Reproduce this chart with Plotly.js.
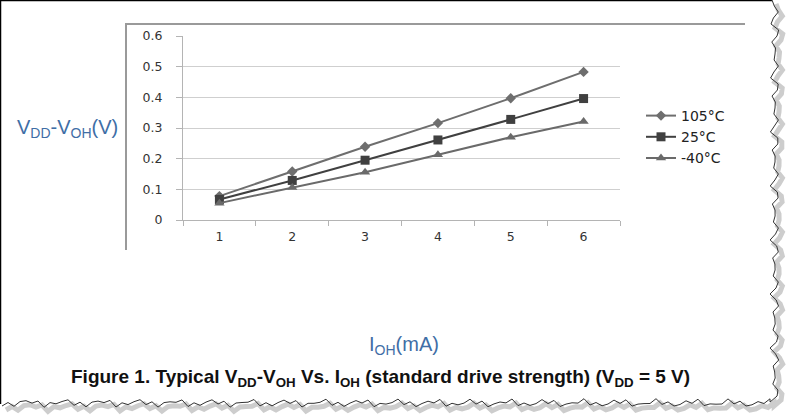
<!DOCTYPE html>
<html>
<head>
<meta charset="utf-8">
<script src="https://cdn.plot.ly/plotly-3.0.1.min.js"></script>
<style>
  body { margin: 0; background: #fff; }
  #chart { width: 793px; height: 417px; }
</style>
</head>
<body>
<div id="chart"></div>
<script>
// currents (mA) on the x axis
const currents = ['1', '2', '3', '4', '5', '6'];
// VDD-VOH (V) per temperature
const hot105 = [0.078, 0.158, 0.239, 0.316, 0.397, 0.483];
const room25 = [0.067, 0.129, 0.195, 0.261, 0.328, 0.396];
const cold40 = [0.055, 0.106, 0.156, 0.213, 0.270, 0.321];
const seriesNames = ['105°C', '25°C', '-40°C'];

// plot area in pixels
const L = 183, R = 620, T = 36, B = 220;
function px(x) { return (x - L) / (R - L); }
function py(y) { return (B - y) / (B - T); }

var trace1 = {
    x: currents, y: hot105, name: seriesNames[0],
    mode: 'lines+markers', type: 'scatter',
    line: { color: '#6e6e6e', width: 2 },
    marker: { symbol: 'diamond', size: 8, color: '#6e6e6e' }
};
var trace2 = {
    x: currents, y: room25, name: seriesNames[1],
    mode: 'lines+markers', type: 'scatter',
    line: { color: '#404040', width: 2 },
    marker: { symbol: 'square', size: 9, color: '#404040' }
};
var trace3 = {
    x: currents, y: cold40, name: seriesNames[2],
    mode: 'lines+markers', type: 'scatter',
    line: { color: '#6a6a6a', width: 2 },
    marker: { symbol: 'triangle-up', size: 9, color: '#6a6a6a' }
};

// jagged torn-paper edge (decoration)
function tornEdge() {
    let d = 'M 772 0';
    for (let y = 6; y <= 402; y += 6) {
        d += ' L ' + (775 + 3 * Math.sin(y * 0.7) + 2 * Math.sin(y * 0.23)).toFixed(1) + ' ' + y;
    }
    for (let x = 770; x >= 0; x -= 6) {
        d += ' L ' + x + ' ' + (403 + 2.5 * Math.sin(x * 0.61) + 2 * Math.sin(x * 0.17)).toFixed(1);
    }
    return d;
}
const edge = tornEdge();

const blue = '#3f6ea6';
const narrow = '"Liberation Sans Narrow", "Arial Narrow", "Liberation Sans", Arial, sans-serif';

var layout = {
    width: 793, height: 417,
    margin: { l: L, r: 793 - R, t: T, b: 417 - B },
    paper_bgcolor: '#fff', plot_bgcolor: '#fff',
    font: { family: 'DejaVu Sans, Verdana, sans-serif', size: 12.5, color: '#333' },
    showlegend: true,
    legend: {
        x: px(641), xanchor: 'left', y: py(100), yanchor: 'top',
        font: { size: 14, color: '#222' }, bgcolor: 'rgba(0,0,0,0)'
    },
    xaxis: {
        type: 'category', range: [-0.5, 5.5], tickson: 'boundaries',
        showgrid: false, showline: true, linecolor: '#b4b4b4', linewidth: 1,
        ticks: 'outside', ticklen: 5, tickcolor: '#b4b4b4',
        ticklabelstandoff: 5, fixedrange: true
    },
    yaxis: {
        range: [0, 0.6], dtick: 0.1, showgrid: true, gridcolor: '#cfcfcf',
        showline: true, linecolor: '#b4b4b4', zeroline: false,
        ticks: 'outside', ticklen: 6, tickcolor: '#b4b4b4',
        ticklabelstandoff: 11, fixedrange: true
    },
    shapes: [
        // outer black frame (top and left)
        { type: 'line', xref: 'paper', yref: 'paper', x0: px(0), x1: px(772), y0: py(0.5), y1: py(0.5), line: { color: '#000', width: 1.5 } },
        { type: 'line', xref: 'paper', yref: 'paper', x0: px(0.5), x1: px(0.5), y0: py(0), y1: py(404), line: { color: '#000', width: 1.5 } },
        // gray frame of the chart object
        { type: 'line', xref: 'paper', yref: 'paper', x0: px(125), x1: px(745), y0: py(24), y1: py(24), line: { color: '#9a9a9a', width: 2 } },
        { type: 'line', xref: 'paper', yref: 'paper', x0: px(126), x1: px(126), y0: py(24), y1: py(250), line: { color: '#9a9a9a', width: 2 } }
    ],
    annotations: [
        {
            text: 'V<sub>DD</sub>-V<sub>OH</sub>(V)', xref: 'paper', yref: 'paper',
            x: px(67), y: py(128), xanchor: 'center', yanchor: 'middle', showarrow: false,
            font: { family: narrow, size: 20, color: blue }
        },
        {
            text: 'I<sub>OH</sub>(mA)', xref: 'paper', yref: 'paper',
            x: px(404), y: py(345), xanchor: 'center', yanchor: 'middle', showarrow: false,
            font: { family: narrow, size: 20, color: blue }
        },
        {
            text: '<b>Figure 1. Typical V<sub>DD</sub>-V<sub>OH</sub> Vs. I<sub>OH</sub> (standard drive strength) (V<sub>DD</sub> = 5 V)</b>',
            xref: 'paper', yref: 'paper', x: px(380), y: py(378), xanchor: 'center', yanchor: 'middle', showarrow: false,
            font: { family: narrow, size: 19, color: '#111' }
        }
    ]
};

Plotly.newPlot('chart', [trace1, trace2, trace3], layout, { displayModeBar: false, staticPlot: true }).then(function () {
    // torn edge drawn in pixel space on top of the paper
    const svg = document.querySelector('#chart .main-svg:last-of-type');
    const ns = 'http://www.w3.org/2000/svg';
    const shadow = document.createElementNS(ns, 'path');
    shadow.setAttribute('d', edge);
    shadow.setAttribute('transform', 'translate(4,4)');
    shadow.setAttribute('fill', 'none');
    shadow.setAttribute('stroke', '#b8b8b8');
    shadow.setAttribute('stroke-width', '5');
    shadow.setAttribute('stroke-opacity', '0.7');
    const line = document.createElementNS(ns, 'path');
    line.setAttribute('d', edge);
    line.setAttribute('fill', 'none');
    line.setAttribute('stroke', '#333');
    line.setAttribute('stroke-width', '1');
    svg.appendChild(shadow);
    svg.appendChild(line);
});
</script>
</body>
</html>
